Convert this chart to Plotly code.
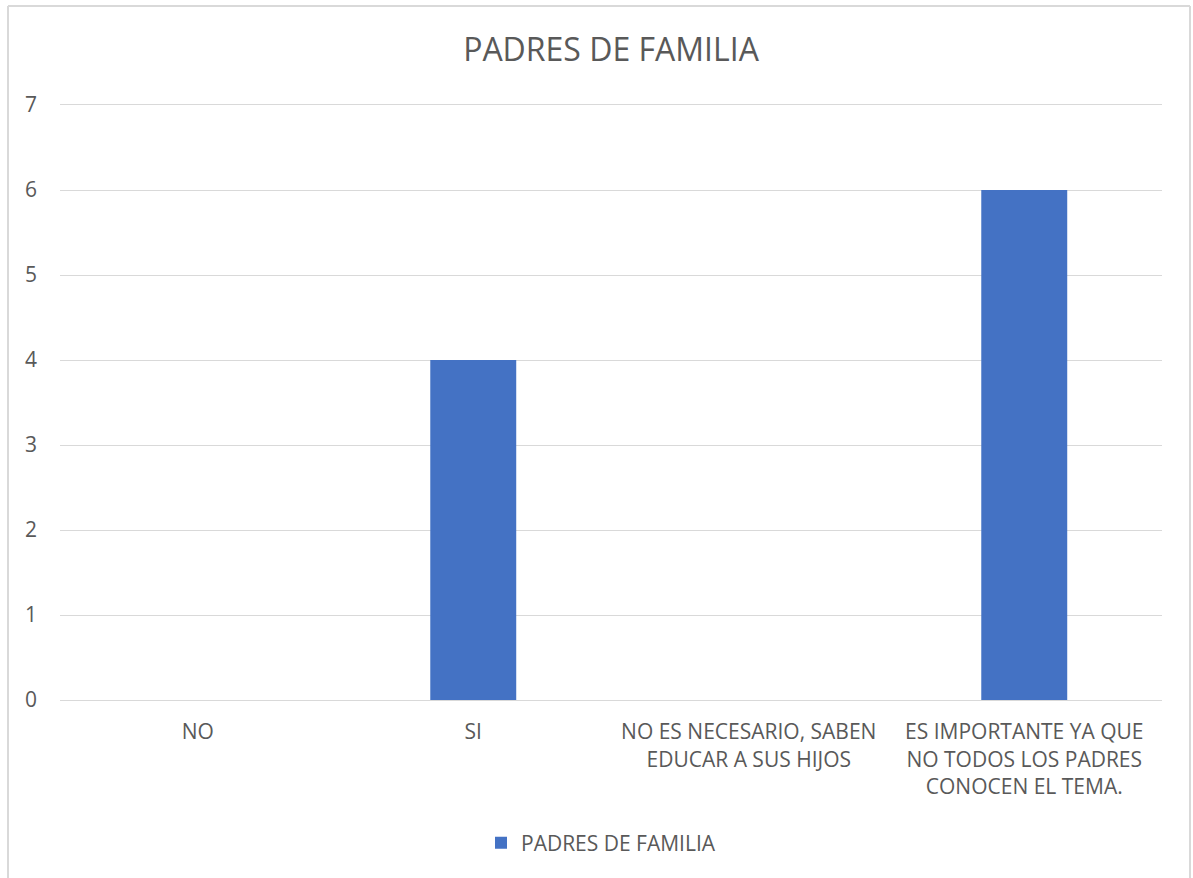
import plotly.graph_objects as go

# Survey answers and counts
categories = [
    "NO",
    "SI",
    "NO ES NECESARIO, SABEN<br>EDUCAR A SUS HIJOS",
    "ES IMPORTANTE YA QUE<br>NO TODOS LOS PADRES<br>CONOCEN EL TEMA.",
]
values = [0, 4, 0, 6]
series_name = "PADRES DE FAMILIA"
chart_title = "PADRES DE FAMILIA"
y_ticks = [0, 1, 2, 3, 4, 5, 6, 7]

W, H = 1193, 878
ML, MR, MT, MB = 60, 31, 105, 178
text_color = "#595959"
grid_color = "#d9d9d9"
bar_color = "#4472c4"
font_family = "Open Sans, Lato, sans-serif"
label_size = 21

fig = go.Figure()
fig.add_trace(go.Bar(
    x=categories,
    y=values,
    name=series_name,
    marker=dict(color=bar_color, line=dict(width=0)),
    showlegend=True,
))

pw = W - ML - MR
ph = H - MT - MB

def px_x(p):
    return (p - ML) / pw

def px_y(p):
    return (H - MB - p) / ph

# Outer chart border (left, top, right edges)
border = dict(color=grid_color, width=2)
fig.add_shape(type="line", xref="paper", yref="paper",
              x0=px_x(8), x1=px_x(8), y0=px_y(6), y1=px_y(H + 5), line=border)
fig.add_shape(type="line", xref="paper", yref="paper",
              x0=px_x(8), x1=px_x(1190), y0=px_y(6), y1=px_y(6), line=border)
fig.add_shape(type="line", xref="paper", yref="paper",
              x0=px_x(1190), x1=px_x(1190), y0=px_y(6), y1=px_y(H + 5), line=border)

fig.update_layout(
    width=W,
    height=H,
    margin=dict(l=ML, r=MR, t=MT, b=MB, autoexpand=False),
    paper_bgcolor="white",
    plot_bgcolor="white",
    bargap=0.688,
    font=dict(family=font_family, color=text_color, size=label_size),
    title=dict(
        text=chart_title,
        x=0.5, xref="paper", xanchor="center",
        y=1 - 50 / H, yref="container", yanchor="middle",
        font=dict(size=32, color=text_color, family=font_family),
    ),
    xaxis=dict(
        type="category",
        showgrid=False,
        showline=True,
        mirror=True,  # top line doubles as the gridline at 7
        linecolor=grid_color,
        linewidth=1,
        ticks="",
        tickfont=dict(size=label_size, color=text_color),
        ticklabelstandoff=13,
        fixedrange=True,
    ),
    yaxis=dict(
        range=[0, 7],
        tickvals=y_ticks,
        showgrid=True,
        gridcolor=grid_color,
        gridwidth=1,
        zeroline=False,
        showline=False,
        ticks="",
        tickfont=dict(size=label_size, color=text_color),
        ticklabelstandoff=22,
        fixedrange=True,
    ),
    legend=dict(
        orientation="h",
        x=px_x(601), xanchor="center", xref="paper",
        y=px_y(843), yanchor="middle",
        font=dict(size=label_size, color=text_color),
        itemwidth=30,
    ),
)

fig.write_html("out.html")
